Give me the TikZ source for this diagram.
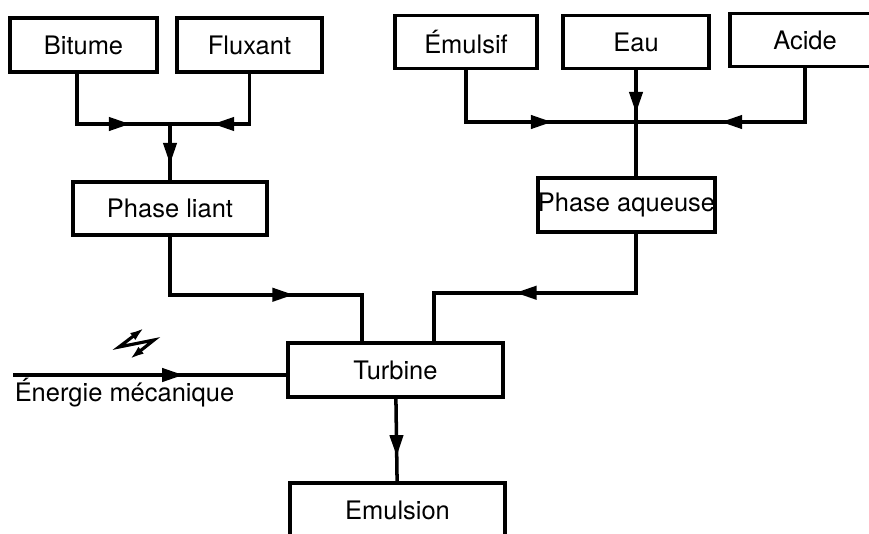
\documentclass[tikz,border=0pt]{standalone}
\usepackage{fontspec}
\setmainfont{TeX Gyre Heros}
\usetikzlibrary{arrows.meta,decorations.markings}
\begin{document}
\begin{tikzpicture}
        [x=0.02cm, y=-0.02cm, line width=2pt,
        block/.style={rectangle,draw,line width=2pt,inner sep=0pt,minimum height=1.08cm,font=\fontsize{14.5}{17}\selectfont},
        flow/.style={postaction={decorate},decoration={markings,mark=at position #1 with {\arrow{Triangle[length=12pt,width=7.5pt]}}}}]
        \useasboundingbox (0,0) rectangle (869,534);
        \node[block,minimum width=2.94cm] (bitume) at (83.5,45) {Bitume};
        \node[block,minimum width=2.90cm] (fluxant) at (249.5,45) {Fluxant};
        \node[block,minimum width=2.84cm,minimum height=1.06cm] (emulsif) at (466,42) {Émulsif};
        \node[block,minimum width=2.92cm,minimum height=1.06cm] (eau) at (636,42) {Eau};
        \node[block,minimum width=3.00cm,minimum height=1.06cm] (acide) at (805,40) {Acide};
        \node[block,minimum width=3.88cm,minimum height=1.06cm] (liant) at (170,208.5) {Phase liant};
        \node[block,minimum width=3.46cm] (aqueuse) at (626.5,205) {Phase aqueuse};
        \node[block,minimum width=4.30cm] (turbine) at (395.5,370) {Turbine};
        \node[block,minimum width=4.30cm] (emulsion) at (397.5,510) {Emulsion};
        \node[font=\fontsize{14.5}{17}\selectfont,anchor=base west,inner sep=0pt] (energie) at (13,401) {Énergie mécanique};

        \coordinate (jl) at (170,124);
        \coordinate (jr) at (636,122);
        \coordinate (src) at (13,375);

        % liant
        \draw[flow=-0.8cm] ([xshift=-0.13cm]bitume.south) |- (jl);
        \draw[flow=-0.86cm] (fluxant.south) |- (jl);
        \draw[flow=0.8cm] (jl) -- (liant);

        % phase aqueuse
        \draw[flow=-1.68cm] (emulsif.south) |- (jr);
        \draw[flow=-0.18cm] (eau.south) -- (jr);
        \draw[flow=-1.7cm] (acide.south) |- (jr);
        \draw (jr) -- (jr |- aqueuse.north);

        % turbine
        \draw[flow=-2.3cm] (liant.south) -- ++(0,58) -| ([xshift=-0.67cm]turbine.north);
        \draw[flow=-2.6cm] (aqueuse.south -| jr) -- ++(0,59) -| ([xshift=0.77cm]turbine.north);
        \draw[flow=-2.06cm] (src) -- (src -| turbine.west);
        \draw[line width=1.8pt,{Latex[length=8pt,width=5pt]}-{Latex[length=8pt,width=5pt]}] (144,328) -- (119,347) -- (154,340) -- (130,359);
        \draw[flow=1.15cm] (turbine) -- (emulsion);
    \end{tikzpicture}
\end{document}
